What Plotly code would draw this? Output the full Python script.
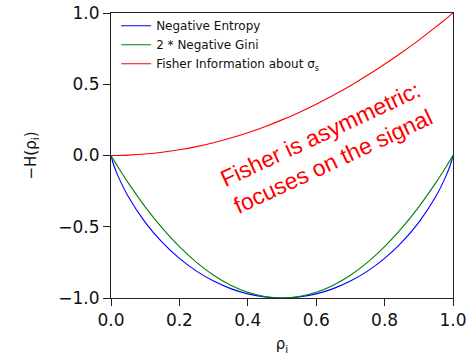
import plotly.graph_objects as go

# Probability of the signal class
rho = [0.0, 0.005, 0.01, 0.02, 0.05, 0.10, 0.15, 0.20, 0.25, 0.30, 0.35, 0.40, 0.45,
       0.50, 0.55, 0.60, 0.65, 0.70, 0.75, 0.80, 0.85, 0.90, 0.95, 0.98, 0.99, 0.995, 1.0]

neg_entropy = [0.0, -0.0454, -0.0808, -0.1414, -0.2864, -0.4690, -0.6098, -0.7219,
               -0.8113, -0.8813, -0.9341, -0.9710, -0.9928, -1.0, -0.9928, -0.9710,
               -0.9341, -0.8813, -0.8113, -0.7219, -0.6098, -0.4690, -0.2864, -0.1414,
               -0.0808, -0.0454, 0.0]

neg_gini_x2 = [0.0, -0.0199, -0.0396, -0.0784, -0.19, -0.36, -0.51, -0.64, -0.75, -0.84,
               -0.91, -0.96, -0.99, -1.0, -0.99, -0.96, -0.91, -0.84, -0.75, -0.64, -0.51,
               -0.36, -0.19, -0.0784, -0.0396, -0.0199, 0.0]

fisher = [0.0, 0.000025, 0.0001, 0.0004, 0.0025, 0.01, 0.0225, 0.04, 0.0625, 0.09, 0.1225,
          0.16, 0.2025, 0.25, 0.3025, 0.36, 0.4225, 0.49, 0.5625, 0.64, 0.7225, 0.81,
          0.9025, 0.9604, 0.9801, 0.990025, 1.0]

series = [
    ("Negative Entropy", neg_entropy, "#0000ff"),
    ("2 * Negative Gini", neg_gini_x2, "#008000"),
    ("Fisher Information about σ<sub>s</sub>", fisher, "#ff0000"),
]

fig = go.Figure()
for name, vals, color in series:
    fig.add_trace(go.Scatter(x=rho, y=vals, mode="lines", name=name,
                             line=dict(color=color, width=1.1, shape="spline", smoothing=0.6)))

fig.add_annotation(x=0.629, y=0.055, xref="x", yref="y",
                   text="Fisher is asymmetric:<br>focuses on the signal",
                   showarrow=False, textangle=-25,
                   font=dict(family="Liberation Sans", size=23, color="#ff0000"))

axis_common = dict(showline=True, mirror=True, linecolor="#222", linewidth=1,
                   ticks="outside", ticklen=7, tickwidth=1, tickcolor="#222",
                   showgrid=False, zeroline=False, automargin=False,
                   tickfont=dict(family="DejaVu Sans", size=17, color="#111"))

fig.update_layout(
    width=472, height=357,
    margin=dict(l=111, r=19, t=13, b=59, pad=0, autoexpand=False),
    plot_bgcolor="white", paper_bgcolor="white",
    showlegend=True,
    legend=dict(x=0.015, y=1.006, xanchor="left", yanchor="top", bgcolor="rgba(0,0,0,0)",
                font=dict(family="DejaVu Sans", size=12, color="#111"),
                tracegroupgap=0, itemwidth=30),
    xaxis=dict(range=[0, 1], tickvals=[0, 0.2, 0.4, 0.6, 0.8, 1.0], tickformat=".1f",
               title=dict(text="ρ<sub>i</sub>", standoff=9,
                          font=dict(family="DejaVu Sans", size=15, color="#111")),
               **axis_common),
    yaxis=dict(range=[-1, 1], tickvals=[-1, -0.5, 0, 0.5, 1.0], tickformat=".1f",
               title=dict(text="−H(ρ<sub>i</sub>)", standoff=18,
                          font=dict(family="DejaVu Sans", size=15, color="#111")),
               **axis_common),
)

fig.write_html("out.html")
